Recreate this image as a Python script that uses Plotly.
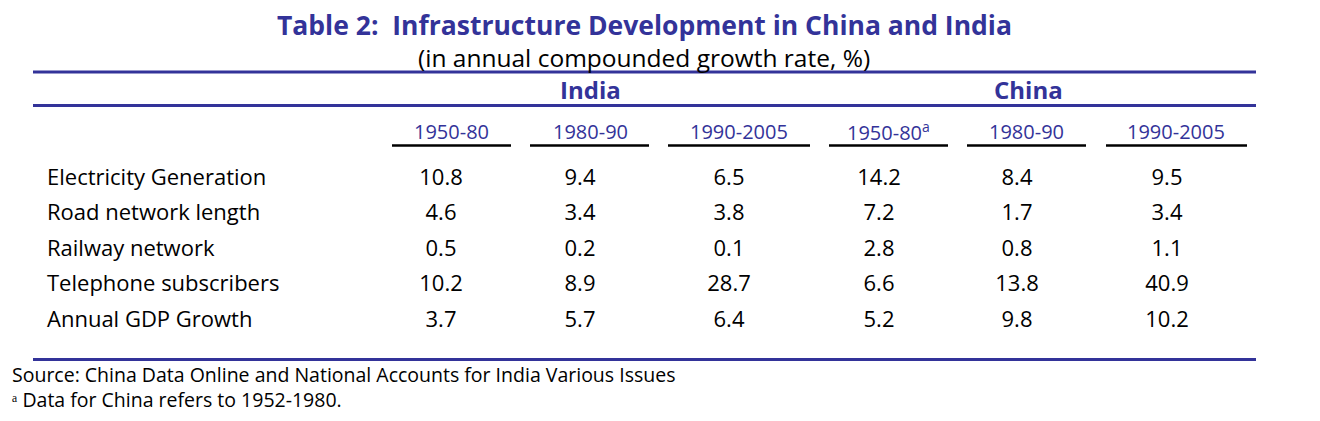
import plotly.graph_objects as go

# ---------------- data ----------------
title = "Table 2:  Infrastructure Development in China and India"
subtitle = "(in annual compounded growth rate, %)"
groups = ["India", "China"]
periods = ["1950-80", "1980-90", "1990-2005", "1950-80<sup>a</sup>", "1980-90", "1990-2005"]
indicators = ["Electricity Generation", "Road network length", "Railway network",
              "Telephone subscribers", "Annual GDP Growth"]
india_1950_80 = [10.8, 4.6, 0.5, 10.2, 3.7]
india_1980_90 = [9.4, 3.4, 0.2, 8.9, 5.7]
india_1990_2005 = [6.5, 3.8, 0.1, 28.7, 6.4]
china_1950_80 = [14.2, 7.2, 2.8, 6.6, 5.2]
china_1980_90 = [8.4, 1.7, 0.8, 13.8, 9.8]
china_1990_2005 = [9.5, 3.4, 1.1, 40.9, 10.2]
source = "Source: China Data Online and National Accounts for India Various Issues"
footnote = "\u1d43 Data for China refers to 1952-1980."

columns = [india_1950_80, india_1980_90, india_1990_2005,
           china_1950_80, china_1980_90, china_1990_2005]

# ---------------- layout constants ----------------
W, H = 1320, 421
OFF = 8  # page body margin
BLUE = "#333399"
FONT = "Open Sans"
col_head_x = [451, 590, 739, 888, 1026, 1176]
col_line = [(392, 511), (530, 649), (668, 810), (829, 948), (967, 1086), (1106, 1247)]
col_val_x = [441, 580, 729, 879, 1017, 1167]
group_x = [590, 1028]
row_y = [179, 214, 250, 285, 321]

fig = go.Figure()

# values
for ci, vals in enumerate(columns):
    fig.add_trace(go.Scatter(
        x=[col_val_x[ci]] * len(vals), y=row_y,
        text=[f"{v:.1f}" for v in vals], mode="text",
        textposition="middle center",
        textfont=dict(family=FONT, size=22, color="black"),
        hoverinfo="skip", showlegend=False))

# row labels
fig.add_trace(go.Scatter(
    x=[47] * len(indicators), y=row_y, text=indicators, mode="text",
    textposition="middle right",
    textfont=dict(family=FONT, size=22, color="black"),
    hoverinfo="skip", showlegend=False))

ann = []
ann.append(dict(x=644, y=25, text=f"<b>{title}</b>", showarrow=False,
                font=dict(family=FONT, size=26.5, color=BLUE), xanchor="center", yanchor="middle"))
ann.append(dict(x=644, y=57, text=subtitle, showarrow=False,
                font=dict(family=FONT, size=24.5, color="black"), xanchor="center", yanchor="middle"))
for g, gx in zip(groups, group_x):
    ann.append(dict(x=gx, y=89, text=f"<b>{g}</b>", showarrow=False,
                    font=dict(family=FONT, size=24, color=BLUE), xanchor="center", yanchor="middle"))
for p, px in zip(periods, col_head_x):
    ann.append(dict(x=px, y=131, text=p, showarrow=False,
                    font=dict(family=FONT, size=20, color=BLUE), xanchor="center", yanchor="middle"))
ann.append(dict(x=12, y=374.5, text=source, showarrow=False,
                font=dict(family=FONT, size=19.5, color="black"), xanchor="left", yanchor="middle"))
ann.append(dict(x=12, y=399, text=footnote, showarrow=False,
                font=dict(family=FONT, size=19.5, color="black"), xanchor="left", yanchor="middle"))
for a in ann:
    a.update(xref="x", yref="y", borderpad=0, borderwidth=0)

shapes = []
for yy in (72, 105.5, 359.5):
    shapes.append(dict(type="line", x0=33, x1=1256, y0=yy, y1=yy, xref="x", yref="y",
                       line=dict(color=BLUE, width=3)))
for (x0, x1) in col_line:
    shapes.append(dict(type="line", x0=x0, x1=x1, y0=145.5, y1=145.5, xref="x", yref="y",
                       line=dict(color="black", width=2.5)))

fig.update_layout(
    width=W - OFF, height=H - OFF, margin=dict(l=0, r=0, t=0, b=0),
    paper_bgcolor="white", plot_bgcolor="white",
    xaxis=dict(range=[OFF, W], visible=False, fixedrange=True),
    yaxis=dict(range=[H, OFF], visible=False, fixedrange=True),
    annotations=ann, shapes=shapes, showlegend=False)

fig.write_html("out.html")
